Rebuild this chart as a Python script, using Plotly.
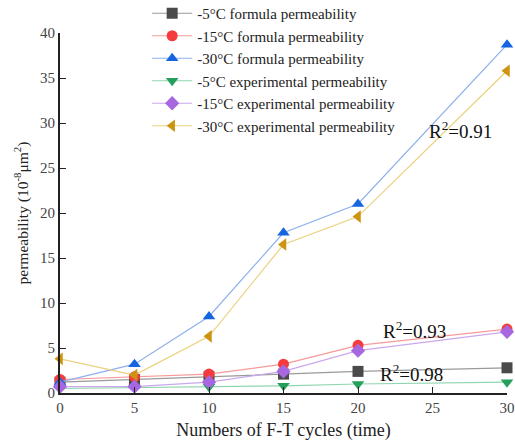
import plotly.graph_objects as go

cycles = [0, 5, 10, 15, 20, 30]

formula_5 = [1.2, 1.5, 1.8, 2.1, 2.4, 2.8]
formula_15 = [1.5, 1.8, 2.1, 3.2, 5.3, 7.1]
formula_30 = [1.2, 3.2, 8.5, 17.8, 21.0, 38.7]
exp_5 = [0.5, 0.6, 0.7, 0.8, 1.0, 1.2]
exp_15 = [0.7, 0.7, 1.2, 2.4, 4.7, 6.8]
exp_30 = [3.8, 2.0, 6.3, 16.5, 19.6, 35.8]

names = [
    "-5°C formula permeability",
    "-15°C formula permeability",
    "-30°C formula permeability",
    "-5°C experimental permeability",
    "-15°C experimental permeability",
    "-30°C experimental permeability",
]
series = [formula_5, formula_15, formula_30, exp_5, exp_15, exp_30]
marker_colors = ["#4a4a4a", "#f53b3b", "#1565e0", "#24a05a", "#a667e0", "#cc9411"]
line_colors = ["#9a9a9a", "#f79a9a", "#8db0ee", "#8fd6ad", "#c9a8ee", "#ead07e"]
symbols = ["square", "circle", "triangle-up", "triangle-down", "diamond", "triangle-left"]

r2_labels = ["R<sup>2</sup>=0.91", "R<sup>2</sup>=0.93", "R<sup>2</sup>=0.98"]
r2_pos = [(26.9, 29.2), (23.8, 7.0), (23.6, 2.2)]

fig = go.Figure()
for name, ys, mc, lc, sym in zip(names, series, marker_colors, line_colors, symbols):
    fig.add_trace(go.Scatter(
        x=cycles, y=ys, name=name, mode="lines+markers",
        line=dict(color=lc, width=1.2),
        marker=dict(color=mc, symbol=sym, size=11),
        cliponaxis=False,
    ))

for label, (ax, ay) in zip(r2_labels, r2_pos):
    fig.add_annotation(x=ax, y=ay, text=label, showarrow=False,
                       font=dict(family="Liberation Serif", size=19, color="#111"))

fig.update_layout(
    width=515, height=447,
    margin=dict(l=60, r=8, t=33, b=54, autoexpand=False),
    paper_bgcolor="white", plot_bgcolor="white",
    font=dict(family="Liberation Serif", color="#222"),
    showlegend=True,
    legend=dict(x=0.195, y=1.1, xanchor="left", yanchor="top",
                bgcolor="rgba(0,0,0,0)", font=dict(size=15, color="#222"),
                tracegroupgap=0, itemwidth=40),
    xaxis=dict(range=[0, 30], tickvals=[0, 5, 10, 15, 20, 25, 30],
               ticks="inside", ticklen=6, tickcolor="#222",
               showline=True, linecolor="#222", linewidth=2, showgrid=False,
               zeroline=False, tickfont=dict(size=15, color="#444"),
               ticklabeloverflow="allow", automargin=False,
               title=dict(text="Numbers of F-T cycles (time)", font=dict(size=18, color="#222"), standoff=8)),
    yaxis=dict(range=[0, 40], tickvals=[0, 5, 10, 15, 20, 25, 30, 35, 40],
               ticks="inside", ticklen=6, tickcolor="#222",
               showline=True, linecolor="#222", linewidth=2, showgrid=False,
               zeroline=False, tickfont=dict(size=15, color="#444"), automargin=False,
               title=dict(text="permeability (10<sup>-8</sup>μm<sup>2</sup>)", font=dict(size=15.5, color="#222"), standoff=8)),
)

fig.write_html("out.html")
